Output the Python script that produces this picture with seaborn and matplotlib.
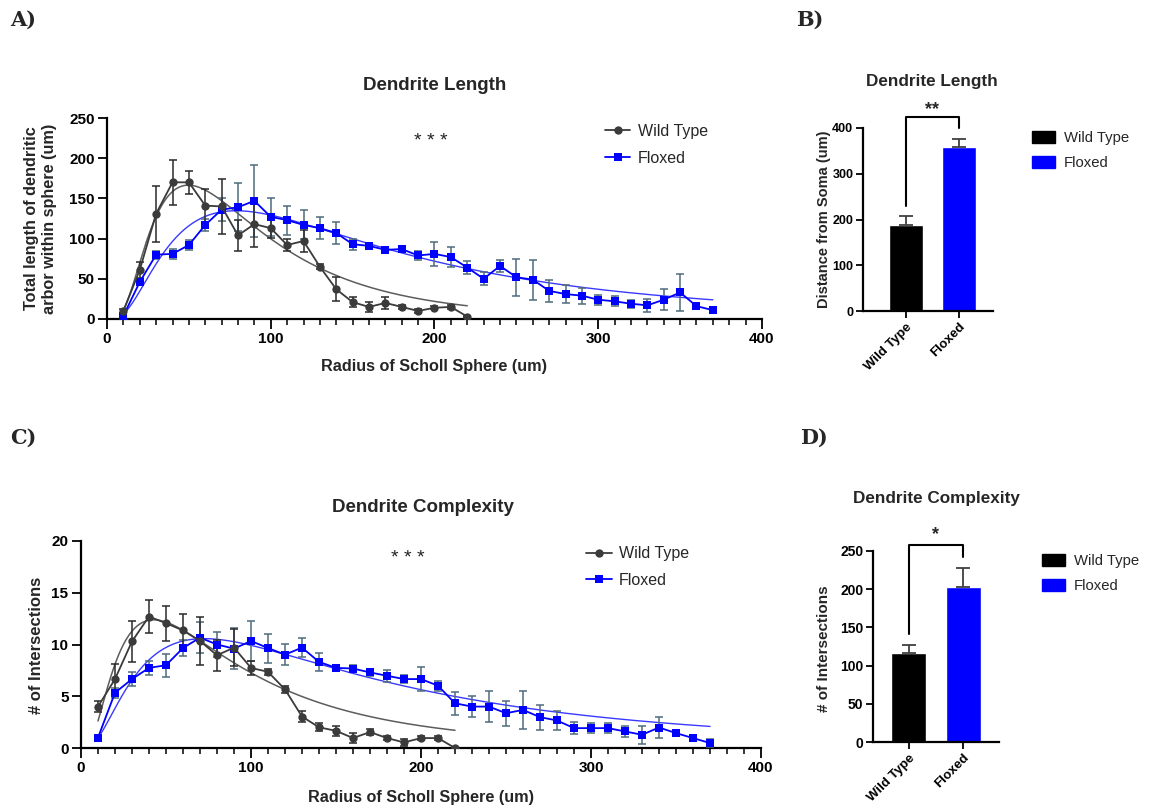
import numpy as np
import pandas as pd
import matplotlib
matplotlib.use("Agg")
import matplotlib.pyplot as plt
import seaborn as sns
from matplotlib.ticker import MultipleLocator
from matplotlib.patches import Patch
from matplotlib.lines import Line2D

sns.set_theme(style="ticks")
plt.rcParams['font.family'] = ['Liberation Sans', 'DejaVu Sans']

# ---------------- data ----------------
groups = ["Wild Type", "Floxed"]

radius_wt = [10, 20, 30, 40, 50, 60, 70, 80, 90, 100, 110, 120, 130, 140, 150,
             160, 170, 180, 190, 200, 210, 220]
radius_fl = [10, 20, 30, 40, 50, 60, 70, 80, 90, 100, 110, 120, 130, 140, 150,
             160, 170, 180, 190, 200, 210, 220, 230, 240, 250, 260, 270, 280,
             290, 300, 310, 320, 330, 340, 350, 360, 370]

# Total dendrite length within each Sholl sphere (um), mean and SEM
length_wt = [10, 61, 131, 170, 170, 141, 140, 104, 118, 113, 92, 97, 65, 37, 21,
             15, 20, 15, 10, 14, 15, 3]
length_wt_err = [3, 10, 35, 28, 14, 21, 34, 19, 28, 12, 8, 14, 3, 15, 6,
                 6, 7, 3, 2, 2, 2, 1]
length_fl = [4, 46, 80, 81, 92, 117, 136, 139, 147, 127, 123, 117, 113, 107, 93,
             91, 86, 87, 79, 81, 77, 64, 50, 66, 52, 49, 35, 31, 29, 24, 22, 19,
             17, 24, 33, 16, 11]
length_fl_err = [1, 4, 5, 6, 6, 8, 14, 30, 45, 24, 18, 18, 14, 14, 7, 3, 3, 2, 6,
                 15, 12, 8, 8, 7, 23, 25, 14, 11, 10, 6, 6, 5, 8, 13, 23, 2, 2]

# Number of intersections at each Sholl radius, mean and SEM
inter_wt = [4.0, 6.66, 10.3, 12.7, 12.06, 11.36, 10.34, 8.96, 9.7, 7.74, 7.36,
            5.66, 3.04, 2.0, 1.66, 0.96, 1.54, 0.96, 0.54, 0.96, 0.96, 0.0]
inter_wt_err = [0.5, 1.45, 2.0, 1.6, 1.7, 1.6, 2.3, 1.5, 1.8, 0.7, 0.3, 0.3, 0.5,
                0.4, 0.5, 0.5, 0.3, 0.2, 0.3, 0.2, 0.2, 0.1]
inter_fl = [1.0, 5.34, 6.66, 7.74, 8.0, 9.66, 10.66, 10.0, 9.6, 10.34, 9.66, 9.02,
            9.7, 8.32, 7.74, 7.68, 7.3, 6.98, 6.66, 6.66, 6.02, 4.32, 4.0, 4.0,
            3.36, 3.68, 2.98, 2.66, 1.92, 1.92, 1.92, 1.6, 1.28, 1.98, 1.44, 0.96,
            0.48]
inter_fl_err = [0.2, 0.5, 0.7, 0.7, 1.1, 0.8, 1.5, 1.2, 2.0, 1.9, 1.4, 1.0, 0.9,
                0.9, 0.3, 0.3, 0.3, 0.6, 0.4, 1.2, 0.5, 1.1, 1.0, 1.5, 1.2, 1.8,
                1.2, 0.9, 0.55, 0.5, 0.5, 0.5, 0.85, 1.0, 0.3, 0.2, 0.4]

# Summary bars: maximal dendrite reach and total intersections (mean, SEM)
reach_mean = [189, 359]
reach_err = [18, 17]
total_inter_mean = [116, 203]
total_inter_err = [11, 25]

# ---------------- styling ----------------
WT_COL = "#3b3b3b"
WT_ERR = "#2a2a2a"
WT_FIT = "#5c5c5c"
FL_COL = "#0000ff"
FL_ERR = "#4e6c7c"
FL_FIT = "#3a3aff"
BAR_COLORS = ["#000000", "#0000ff"]

TICK_FS = 11
LABEL_FS = 11.7
TITLE_FS = 13.5

fig = plt.figure(figsize=(11.52, 8.09), dpi=100)
W, H = 1152, 809


def axes_px(left, right, top, bottom):
    return fig.add_axes([left / W, 1 - bottom / H, (right - left) / W, (bottom - top) / H])


def style_axes(ax, labelsize=TICK_FS):
    for side in ("top", "right"):
        ax.spines[side].set_visible(False)
    for side in ("left", "bottom"):
        ax.spines[side].set_linewidth(1.6)
        ax.spines[side].set_color("black")
    ax.tick_params(axis="both", which="major", direction="out", length=6.5, width=1.3,
                   colors="black", labelsize=labelsize, pad=2.5)
    ax.tick_params(axis="x", which="minor", direction="out", length=4.5, width=1.1,
                   colors="black")
    for lab in ax.get_xticklabels() + ax.get_yticklabels():
        lab.set_fontweight("bold")
    ax.set_facecolor("white")
    ax.grid(False)


def lognormal_fit(x, y):
    """Least-squares log-normal shaped curve through the mean profile."""
    x = np.asarray(x, float)
    y = np.asarray(y, float)
    ok = y > 0
    coef = np.polyfit(np.log(x[ok]), np.log(y[ok]), 2, w=y[ok])
    xs = np.linspace(x.min(), x.max(), 300)
    return xs, np.exp(np.polyval(coef, np.log(xs)))


def sholl_panel(ax, y_wt, e_wt, y_fl, e_fl, ylim, ystep):
    # fitted curves
    xs, ys = lognormal_fit(radius_wt, y_wt)
    sns.lineplot(x=xs, y=ys, ax=ax, color=WT_FIT, linewidth=1.1, zorder=2)
    xs, ys = lognormal_fit(radius_fl, y_fl)
    sns.lineplot(x=xs, y=ys, ax=ax, color=FL_FIT, linewidth=1.0, zorder=2)
    # error bars
    ax.errorbar(radius_fl, y_fl, yerr=e_fl, fmt="none", ecolor=FL_ERR,
                elinewidth=1.1, capsize=3, capthick=1.1, zorder=3)
    ax.errorbar(radius_wt, y_wt, yerr=e_wt, fmt="none", ecolor=WT_ERR,
                elinewidth=1.1, capsize=3, capthick=1.1, zorder=3)
    # mean profiles
    sns.lineplot(x=radius_fl, y=y_fl, ax=ax, color=FL_COL, linewidth=1.3,
                 marker="s", markersize=6.3, markeredgewidth=0, zorder=4)
    sns.lineplot(x=radius_wt, y=y_wt, ax=ax, color=WT_COL, linewidth=1.3,
                 marker="o", markersize=6.0, markeredgewidth=0, zorder=5)
    ax.set_xlim(0, 400)
    ax.set_ylim(*ylim)
    ax.xaxis.set_major_locator(MultipleLocator(100))
    ax.xaxis.set_minor_locator(MultipleLocator(10))
    ax.yaxis.set_major_locator(MultipleLocator(ystep))
    ax.set_xlabel("")
    ax.set_ylabel("")
    style_axes(ax)
    ax.tick_params(axis="x", which="major", length=7)
    handles = [
        Line2D([], [], color=WT_COL, marker="o", markersize=6.0, markeredgewidth=0, linewidth=1.3),
        Line2D([], [], color=FL_COL, marker="s", markersize=6.3, markeredgewidth=0, linewidth=1.3),
    ]
    return handles


def bar_panel(ax, means, errs, ymax, ystep, ytick_fs, legend_x):
    df = pd.DataFrame({"group": groups, "value": means})
    sns.barplot(data=df, x="group", y="value", hue="group", palette=BAR_COLORS,
                width=0.64, errorbar=None, legend=False, ax=ax, saturation=1)
    ax.errorbar([0, 1], means, yerr=[[0, 0], errs], fmt="none", ecolor="#404040",
                elinewidth=1.3, capsize=5, capthick=1.3, zorder=3)
    ax.set_ylim(0, ymax)
    ax.yaxis.set_major_locator(MultipleLocator(ystep))
    ax.set_xlabel("")
    ax.set_ylabel("")
    style_axes(ax)
    ax.tick_params(axis="both", which="major", length=5, pad=2)
    ax.tick_params(axis="x", labelsize=9.5)
    ax.tick_params(axis="y", labelsize=ytick_fs)
    for lab in ax.get_xticklabels():
        lab.set_rotation(45)
        lab.set_ha("right")
        lab.set_rotation_mode("anchor")
        lab.set_fontweight("bold")
    handles = [Patch(facecolor=c, edgecolor=c) for c in BAR_COLORS]
    ax.legend(handles, groups, loc="upper left", frameon=False, fontsize=10.7,
              handlelength=1.55, handleheight=0.9, handletextpad=0.6,
              labelspacing=0.72, borderpad=0, borderaxespad=0,
              bbox_to_anchor=(legend_x, 0.985))


# ---------------- A) Dendrite length Sholl profile ----------------
axA = axes_px(107, 762, 118, 319)
hA = sholl_panel(axA, length_wt, length_wt_err, length_fl, length_fl_err, (0, 250), 50)
axA.text(0.5, 1.164, "Dendrite Length", transform=axA.transAxes, ha="center",
         va="center", fontsize=TITLE_FS, fontweight="bold")
axA.text(0.5, -0.235, "Radius of Scholl Sphere (um)", transform=axA.transAxes,
         ha="center", va="center", fontsize=LABEL_FS, fontweight="bold")
axA.text(-0.101, 0.5, "Total length of dendritic\narbor within sphere (um)",
         transform=axA.transAxes, ha="center", va="center", rotation=90,
         fontsize=LABEL_FS, fontweight="bold", linespacing=1.25)
axA.text(0.494, 0.885, "* * *", transform=axA.transAxes, ha="center", va="center",
         fontsize=14, color="#222222")
axA.legend(hA, groups, loc="upper left", frameon=False, fontsize=11.5,
           handlelength=1.6, handletextpad=0.45, labelspacing=0.72,
           borderpad=0, borderaxespad=0, bbox_to_anchor=(0.760, 0.97))

# ---------------- B) Dendrite reach bars ----------------
axB = axes_px(863, 993, 128, 311)
bar_panel(axB, reach_mean, reach_err, 400, 100, 9, 1.30)
axB.set_xlim(-0.81, 1.65)
axB.text(0.526, 1.255, "Dendrite Length", transform=axB.transAxes, ha="center",
         va="center", fontsize=12.3, fontweight="bold")
axB.text(-0.30, 0.5, "Distance from Soma (um)", transform=axB.transAxes,
         ha="center", va="center", rotation=90, fontsize=10.5, fontweight="bold")
axB.plot([0, 0, 1, 1], [230, 424, 424, 400], color="black", lw=1.5, clip_on=False)
axB.text(0.5, 440, "**", ha="center", va="center", fontsize=13, fontweight="bold")

# ---------------- C) Dendrite complexity Sholl profile ----------------
axC = axes_px(81, 761, 541, 748)
hC = sholl_panel(axC, inter_wt, inter_wt_err, inter_fl, inter_fl_err, (0, 20), 5)
axC.text(0.503, 1.164, "Dendrite Complexity", transform=axC.transAxes, ha="center",
         va="center", fontsize=TITLE_FS, fontweight="bold")
axC.text(0.5, -0.237, "Radius of Scholl Sphere (um)", transform=axC.transAxes,
         ha="center", va="center", fontsize=LABEL_FS, fontweight="bold")
axC.text(-0.066, 0.498, "# of Intersections", transform=axC.transAxes,
         ha="center", va="center", rotation=90, fontsize=12, fontweight="bold")
axC.text(0.480, 0.915, "* * *", transform=axC.transAxes, ha="center", va="center",
         fontsize=14, color="#222222")
axC.legend(hC, groups, loc="upper left", frameon=False, fontsize=11.5,
           handlelength=1.6, handletextpad=0.45, labelspacing=0.72,
           borderpad=0, borderaxespad=0, bbox_to_anchor=(0.743, 0.975))

# ---------------- D) Total intersections bars ----------------
axD = axes_px(873, 999, 551, 742)
bar_panel(axD, total_inter_mean, total_inter_err, 250, 50, 10, 1.341)
axD.set_xlim(-0.66, 1.66)
axD.text(0.505, 1.274, "Dendrite Complexity", transform=axD.transAxes, ha="center",
         va="center", fontsize=12.3, fontweight="bold")
axD.text(-0.39, 0.49, "# of Intersections", transform=axD.transAxes,
         ha="center", va="center", rotation=90, fontsize=11, fontweight="bold")
axD.plot([0, 0, 1, 1], [142, 258, 258, 242], color="black", lw=1.5, clip_on=False)
axD.text(0.5, 271, "*", ha="center", va="center", fontsize=13, fontweight="bold")

# ---------------- panel letters ----------------
for letter, x, y in [("A)", 10, 20), ("B)", 796, 20), ("C)", 10, 438), ("D)", 800, 438)]:
    fig.text(x / W, 1 - y / H, letter, ha="left", va="center", fontsize=15,
             fontweight="bold", family="DejaVu Serif")

fig.savefig("out.png", dpi=100, facecolor="white")
